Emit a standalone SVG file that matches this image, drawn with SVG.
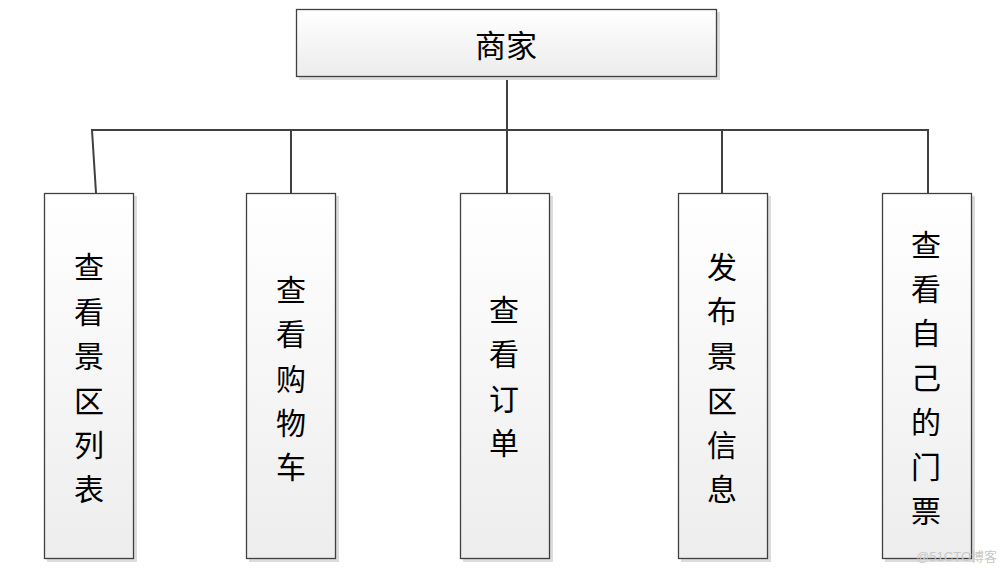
<svg xmlns="http://www.w3.org/2000/svg" width="1006" height="573" viewBox="0 0 1006 573">
<defs>
<linearGradient id="g" x1="0" y1="0" x2="0" y2="1">
<stop offset="0" stop-color="#ffffff"/>
<stop offset="1" stop-color="#ececec"/>
</linearGradient>
<linearGradient id="gv" x1="0" y1="0" x2="0" y2="1">
<stop offset="0" stop-color="#ffffff"/>
<stop offset="1" stop-color="#ededed"/>
</linearGradient>
</defs>
<style>
.box{fill:url(#gv);stroke:#404040;stroke-width:1.3}
.sh{fill:#dcdcdc}
.t{font-family:"Noto Sans CJK SC","Noto Sans CJK JP",sans-serif;font-size:30px;fill:#000;text-anchor:middle;dominant-baseline:central}
.c{fill:none;stroke:#404040;stroke-width:2}
</style>
<rect width="1006" height="573" fill="#ffffff"/>
<g id="connectors">
<line class="c" x1="507" y1="77" x2="507" y2="130"/>
<polyline class="c" points="96,193 92,130 928,130 928,193"/>
<line class="c" x1="291" y1="130" x2="291" y2="193"/>
<line class="c" x1="507" y1="130" x2="507" y2="193"/>
<line class="c" x1="722" y1="130" x2="722" y2="193"/>
</g>
<g id="n0">
<rect class="sh" x="299" y="12" width="421" height="68"/>
<rect class="box" x="296.5" y="9.5" width="420" height="67" style="fill:url(#g)"/>
<text class="t" x="506" y="43" style="font-size:31px">商家</text>
</g>
<g id="n1">
<rect class="sh" x="47" y="196" width="90" height="366"/>
<rect class="box" x="44.5" y="193.5" width="89" height="365"/>
<text class="t" x="89" y="265">查</text><text class="t" x="89" y="310">看</text><text class="t" x="89" y="354">景</text><text class="t" x="89" y="399">区</text><text class="t" x="89" y="443">列</text><text class="t" x="89" y="487">表</text>
</g>
<g id="n2">
<rect class="sh" x="249" y="196" width="90" height="366"/>
<rect class="box" x="246.5" y="193.5" width="89" height="365"/>
<text class="t" x="291" y="288">查</text><text class="t" x="291" y="332">看</text><text class="t" x="291" y="377">购</text><text class="t" x="291" y="421">物</text><text class="t" x="291" y="465">车</text>
</g>
<g id="n3">
<rect class="sh" x="463" y="196" width="90" height="366"/>
<rect class="box" x="460.5" y="193.5" width="89" height="365"/>
<text class="t" x="504" y="308">查</text><text class="t" x="504" y="352">看</text><text class="t" x="504" y="397">订</text><text class="t" x="504" y="441">单</text>
</g>
<g id="n4">
<rect class="sh" x="681" y="196" width="90" height="366"/>
<rect class="box" x="678.5" y="193.5" width="89" height="365"/>
<text class="t" x="722" y="265">发</text><text class="t" x="722" y="309">布</text><text class="t" x="722" y="354">景</text><text class="t" x="722" y="399">区</text><text class="t" x="722" y="443">信</text><text class="t" x="722" y="487">息</text>
</g>
<g id="n5">
<rect class="sh" x="885" y="196" width="90" height="366"/>
<rect class="box" x="882.5" y="193.5" width="89" height="365"/>
<text class="t" x="926" y="243">查</text><text class="t" x="926" y="287">看</text><text class="t" x="926" y="331">自</text><text class="t" x="926" y="376">己</text><text class="t" x="926" y="420">的</text><text class="t" x="926" y="465">门</text><text class="t" x="926" y="509">票</text>
</g>
<text x="997" y="561" style="font-family:'Liberation Sans','Noto Sans CJK SC',sans-serif;font-size:13px;fill:#c8c8c8;text-anchor:end">@51CTO博客</text>
</svg>
